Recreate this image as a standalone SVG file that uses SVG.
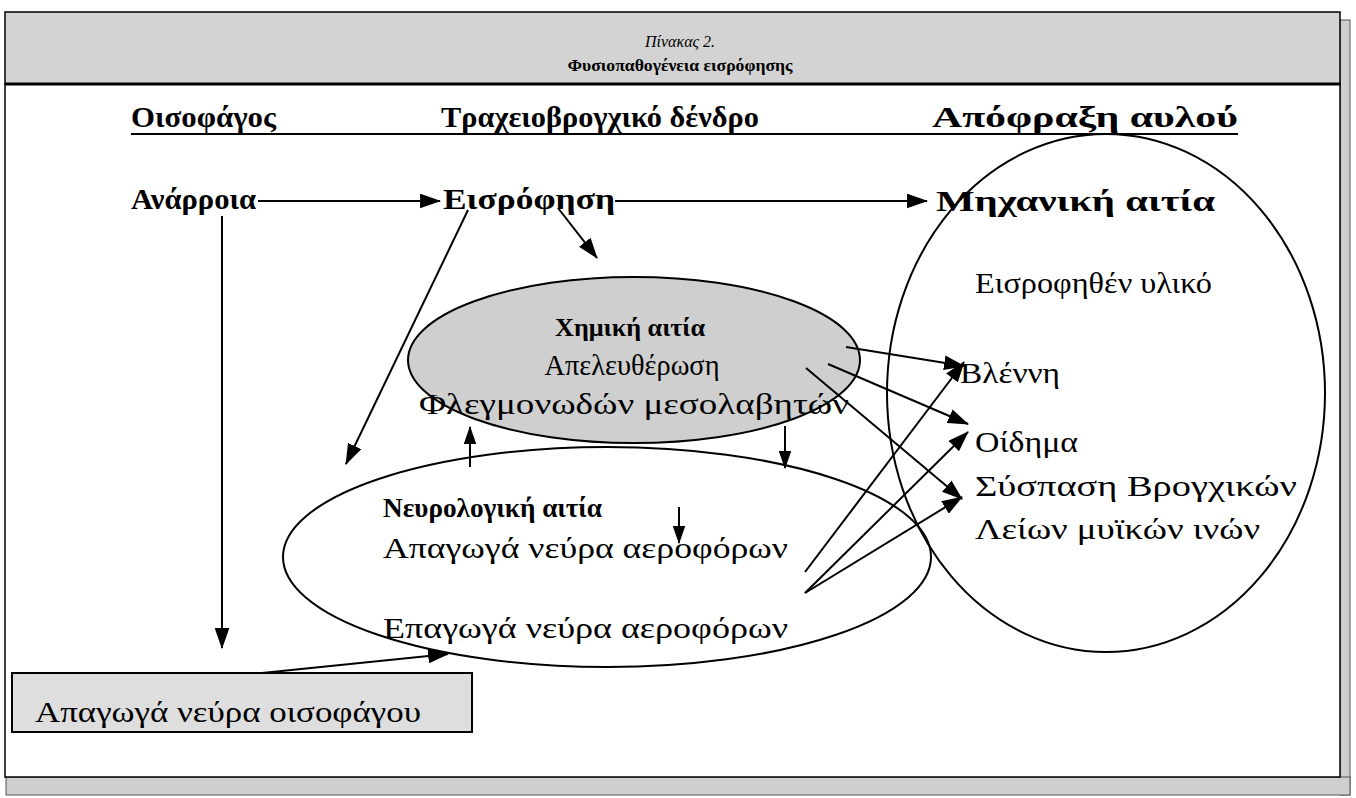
<svg xmlns="http://www.w3.org/2000/svg" width="1356" height="798" viewBox="0 0 1356 798">
<defs>
<marker id="ah" viewBox="0 0 20 14" refX="19" refY="7" markerWidth="21" markerHeight="15" markerUnits="userSpaceOnUse" orient="auto"><path d="M0,0 L20,7 L0,14 z" fill="#000"/></marker>
<marker id="ahs" viewBox="0 0 20 14" refX="19" refY="7" markerWidth="18" markerHeight="13" markerUnits="userSpaceOnUse" orient="auto"><path d="M0,0 L20,7 L0,14 z" fill="#000"/></marker>
</defs>
<style>
.t{font-family:"Liberation Serif","DejaVu Serif","Times New Roman",serif;fill:#000}
.b{font-weight:bold}
.h{font-size:30px;font-weight:bold}
.l{font-size:29px}
.c{stroke:#000;stroke-width:2;fill:none}
.e{stroke:#000;stroke-width:2}
</style>
<rect width="1356" height="798" fill="#fff"/>
<g id="frame">
<rect x="1340" y="20" width="10" height="775" fill="#cfcfcf" stroke="#555" stroke-width="1"/>
<rect x="6" y="777" width="1344" height="18" fill="#cfcfcf" stroke="#555" stroke-width="1"/>
<rect x="5" y="12" width="1335" height="72" fill="#d3d3d3" stroke="#000" stroke-width="1.5"/>
<rect x="5" y="84" width="1335" height="693" fill="#fff" stroke="#000" stroke-width="1.5"/>
<line x1="5" y1="84" x2="1340" y2="84" stroke="#000" stroke-width="3"/>
<text class="t" x="680" y="47" font-size="16" font-style="italic" text-anchor="middle">Πίνακας 2.</text>
<text class="t b" x="680" y="71" font-size="16" text-anchor="middle" textLength="225" lengthAdjust="spacingAndGlyphs">Φυσιοπαθογένεια εισρόφησης</text>
</g>
<g id="headers">
<text class="t h" x="131" y="127" textLength="145" lengthAdjust="spacingAndGlyphs">Οισοφάγος</text>
<text class="t h" x="441" y="127" textLength="318" lengthAdjust="spacingAndGlyphs">Τραχειοβρογχικό δένδρο</text>
<text class="t h" x="932" y="127" textLength="306" lengthAdjust="spacingAndGlyphs">Απόφραξη αυλού</text>
<line x1="131" y1="134" x2="1238" y2="134" stroke="#000" stroke-width="2"/>
</g>
<g id="node-chem">
<ellipse cx="634" cy="360" rx="226" ry="83" fill="#cfcfcf" class="e"/>
<text class="t b" x="630" y="336" font-size="26" text-anchor="middle" textLength="150" lengthAdjust="spacingAndGlyphs">Χημική αιτία</text>
<text class="t l" x="632" y="375" text-anchor="middle" textLength="175" lengthAdjust="spacingAndGlyphs">Απελευθέρωση</text>
<text class="t l" x="634" y="414" text-anchor="middle" textLength="430" lengthAdjust="spacingAndGlyphs">Φλεγμονωδών μεσολαβητών</text>
</g>
<g id="node-neuro">
<ellipse cx="607" cy="557" rx="324" ry="110" fill="none" class="e"/>
<text class="t b" x="383" y="517" font-size="27" textLength="219" lengthAdjust="spacingAndGlyphs">Νευρολογική αιτία</text>
<text class="t l" x="383" y="558" textLength="405" lengthAdjust="spacingAndGlyphs">Απαγωγά νεύρα αεροφόρων</text>
<text class="t l" x="383" y="638" textLength="405" lengthAdjust="spacingAndGlyphs">Επαγωγά νεύρα αεροφόρων</text>
</g>
<g id="node-mech">
<ellipse cx="1106" cy="393" rx="219" ry="259" fill="none" class="e"/>
<text class="t h" x="936" y="211" textLength="279" lengthAdjust="spacingAndGlyphs">Μηχανική αιτία</text>
<text class="t l" x="975" y="293" textLength="237" lengthAdjust="spacingAndGlyphs">Εισροφηθέν υλικό</text>
<text class="t l" x="960" y="383" textLength="100" lengthAdjust="spacingAndGlyphs">Βλέννη</text>
<text class="t l" x="975" y="452" textLength="103" lengthAdjust="spacingAndGlyphs">Οίδημα</text>
<text class="t l" x="975" y="496" textLength="322" lengthAdjust="spacingAndGlyphs">Σύσπαση Βρογχικών</text>
<text class="t l" x="975" y="539" textLength="285" lengthAdjust="spacingAndGlyphs">Λείων μυϊκών ινών</text>
</g>
<g id="node-reflux">
<text class="t h" x="131" y="209" textLength="125" lengthAdjust="spacingAndGlyphs">Ανάρροια</text>
</g>
<g id="node-asp">
<text class="t h" x="443" y="209" textLength="172" lengthAdjust="spacingAndGlyphs">Εισρόφηση</text>
</g>
<g id="node-esoph">
<rect x="12" y="673" width="460" height="59" fill="#dedede" stroke="#000" stroke-width="2"/>
<text class="t l" x="35" y="722" textLength="386" lengthAdjust="spacingAndGlyphs">Απαγωγά νεύρα οισοφάγου</text>
</g>
<g id="connectors">
<line class="c" x1="258" y1="201" x2="440" y2="201" stroke-width="1.5" marker-end="url(#ah)"/>
<line class="c" x1="615" y1="201" x2="927" y2="201" stroke-width="1.5" marker-end="url(#ah)"/>
<line class="c" x1="222" y1="216" x2="222" y2="648" stroke-width="1.5" marker-end="url(#ah)"/>
<line class="c" x1="468" y1="210" x2="346" y2="464" marker-end="url(#ah)"/>
<line class="c" x1="558" y1="208" x2="597" y2="258" marker-end="url(#ah)"/>
<line class="c" x1="470" y1="467" x2="470" y2="427" marker-end="url(#ahs)"/>
<line class="c" x1="785" y1="426" x2="785" y2="468" marker-end="url(#ahs)"/>
<line class="c" x1="679" y1="507" x2="679" y2="543" marker-end="url(#ahs)"/>
<line class="c" x1="262" y1="673" x2="448" y2="654" stroke-width="2.5" marker-end="url(#ah)"/>
<line class="c" x1="846" y1="347" x2="964" y2="366" stroke-width="2.5" marker-end="url(#ah)"/>
<line class="c" x1="828" y1="364" x2="968" y2="424" stroke-width="2.5" marker-end="url(#ah)"/>
<line class="c" x1="806" y1="368" x2="962" y2="499" stroke-width="2.5" marker-end="url(#ah)"/>
<line class="c" x1="805" y1="572" x2="964" y2="362" stroke-width="2.5" marker-end="url(#ah)"/>
<line class="c" x1="805" y1="593" x2="968" y2="432" stroke-width="2.5" marker-end="url(#ah)"/>
<line class="c" x1="805" y1="593" x2="962" y2="497" stroke-width="2.5" marker-end="url(#ah)"/>
</g>
</svg>
